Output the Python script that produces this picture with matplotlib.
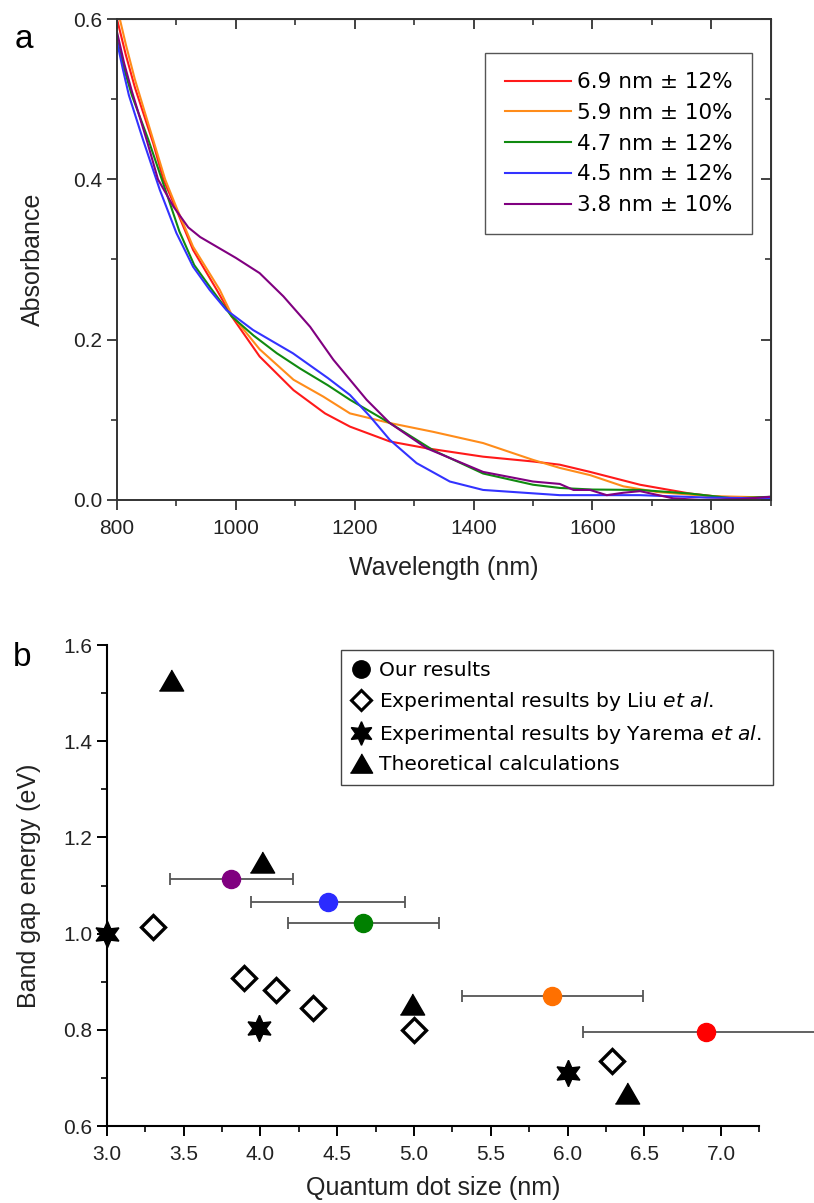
import matplotlib
matplotlib.use('Agg')
import matplotlib.pyplot as plt
from matplotlib.lines import Line2D
import numpy as np

# panel a: absorbance spectra
red_wl = [800, 815, 830, 861, 878, 900, 928, 968, 993, 1040, 1097, 1150, 1192, 1259, 1321, 1416, 1500, 1545, 1596, 1680, 1764, 1837, 1900]
red_abs = [0.600, 0.555, 0.515, 0.445, 0.400, 0.362, 0.312, 0.262, 0.229, 0.179, 0.137, 0.108, 0.0915, 0.073, 0.0645, 0.054, 0.048, 0.044, 0.035, 0.019, 0.008, 0.002, 0.003]

orange_wl = [800, 815, 830, 861, 881, 900, 928, 973, 993, 1040, 1097, 1147, 1192, 1259, 1332, 1416, 1500, 1545, 1596, 1652, 1708, 1792, 1900]
orange_abs = [0.615, 0.568, 0.525, 0.449, 0.400, 0.365, 0.316, 0.262, 0.231, 0.188, 0.150, 0.129, 0.108, 0.096, 0.085, 0.071, 0.050, 0.040, 0.031, 0.017, 0.010, 0.005, 0.003]

green_wl = [800, 812, 825, 853, 880, 905, 930, 960, 993, 1030, 1069, 1108, 1155, 1192, 1259, 1332, 1416, 1500, 1545, 1600, 1680, 1764, 1837, 1900]
green_abs = [0.575, 0.538, 0.505, 0.449, 0.390, 0.335, 0.293, 0.262, 0.229, 0.205, 0.183, 0.164, 0.143, 0.125, 0.096, 0.062, 0.033, 0.019, 0.015, 0.013, 0.0125, 0.008, 0.002, 0.004]

blue_wl = [800, 810, 820, 844, 872, 900, 928, 956, 984, 1029, 1096, 1155, 1192, 1226, 1259, 1304, 1360, 1416, 1545, 1680, 1792, 1900]
blue_abs = [0.572, 0.537, 0.505, 0.449, 0.387, 0.333, 0.291, 0.262, 0.237, 0.212, 0.183, 0.152, 0.131, 0.104, 0.075, 0.046, 0.023, 0.0125, 0.006, 0.006, 0.003, 0.002]

purple_wl = [800, 812, 825, 850, 869, 895, 920, 940, 970, 1000, 1040, 1080, 1125, 1164, 1220, 1259, 1321, 1416, 1500, 1545, 1568, 1596, 1624, 1652, 1680, 1736, 1781, 1848, 1900]
purple_abs = [0.584, 0.545, 0.510, 0.449, 0.400, 0.366, 0.340, 0.328, 0.315, 0.302, 0.283, 0.254, 0.216, 0.175, 0.125, 0.096, 0.0645, 0.035, 0.023, 0.020, 0.0125, 0.0125, 0.006, 0.009, 0.011, 0.002, 0.000, 0.001, 0.004]

spec_labels = ['6.9 nm ± 12%', '5.9 nm ± 10%', '4.7 nm ± 12%', '4.5 nm ± 12%', '3.8 nm ± 10%']

# panel b: band gap vs size
our_size = [6.9, 5.9, 4.67, 4.44, 3.81]
our_gap = [0.795, 0.871, 1.022, 1.066, 1.113]
our_err = [0.80, 0.59, 0.49, 0.50, 0.40]
liu_size = [3.3, 3.89, 4.1, 4.34, 5.0, 6.29]
liu_gap = [1.014, 0.908, 0.883, 0.845, 0.80, 0.735]
yarema_size = [3.0, 3.99, 6.0]
yarema_gap = [1.0, 0.803, 0.71]
theory_size = [3.42, 4.01, 4.99, 6.39]
theory_gap = [1.527, 1.148, 0.854, 0.668]

line_colors = ['#ff1a1a', '#ff8c1a', '#108a10', '#3333ff', '#800080']
dot_colors = ['#ff0000', '#ff7000', '#008000', '#2b2bff', '#800080']

arial = 'Liberation Sans'
tick_col = '#222222'

fig = plt.figure(figsize=(8.14, 12.03), dpi=100)

# ---------------- panel a ----------------
ax1 = fig.add_axes([0.1437, 0.5844, 0.8032, 0.3998])
series = [(red_wl, red_abs), (orange_wl, orange_abs), (green_wl, green_abs),
          (blue_wl, blue_abs), (purple_wl, purple_abs)]
for (wl, ab), c, lab in zip(series, line_colors, spec_labels):
    ax1.plot(wl, ab, color=c, lw=1.5, label=lab)
ax1.set_xlim(800, 1900)
ax1.set_ylim(0, 0.6)
ax1.set_xticks(np.arange(800, 1801, 200))
ax1.set_xticks(np.arange(900, 1901, 200), minor=True)
ax1.set_yticks([0.0, 0.2, 0.4, 0.6])
ax1.set_yticks([0.1, 0.3, 0.5], minor=True)
ax1.set_yticklabels(['0.0', '0.2', '0.4', '0.6'])
for sp in ax1.spines.values():
    sp.set_color('#333333')
    sp.set_linewidth(1.4)
ax1.tick_params(which='major', direction='out', length=7, width=1.3, color='#333333',
                labelsize=15, labelcolor=tick_col)
ax1.tick_params(axis='x', which='major', pad=7)
ax1.tick_params(which='minor', direction='out', length=4, width=1.2, color='#333333')
for t in ax1.get_xticklabels() + ax1.get_yticklabels():
    t.set_fontfamily(arial)
ax1.set_xlabel('Wavelength (nm)', fontsize=18, family=arial, color=tick_col, labelpad=13)
ax1.set_ylabel('Absorbance', fontsize=18, family=arial, color=tick_col, labelpad=20)

# mirrored ticks pointing inwards on top and right
top = ax1.secondary_xaxis('top')
top.set_xticks(np.arange(800, 1901, 200))
top.set_xticks(np.arange(900, 1901, 200), minor=True)
top.tick_params(which='major', direction='in', length=7, width=1.3, color='#333333', labeltop=False)
top.tick_params(which='minor', direction='in', length=4, width=1.2, color='#333333')
top.spines['top'].set_color('#333333')
right = ax1.secondary_yaxis('right')
right.set_yticks([0.0, 0.2, 0.4, 0.6])
right.set_yticks([0.1, 0.3, 0.5], minor=True)
right.tick_params(which='major', direction='in', length=7, width=1.3, color='#333333', labelright=False)
right.tick_params(which='minor', direction='in', length=4, width=1.2, color='#333333')
right.spines['right'].set_color('#333333')

leg1 = ax1.legend(loc='upper right', bbox_to_anchor=(0.9235, 0.9562), bbox_transform=fig.transFigure,
                  borderaxespad=0, fancybox=False, edgecolor='#555555', framealpha=1,
                  prop={'family': 'DejaVu Sans', 'size': 15.5}, handlelength=3.1,
                  labelspacing=0.5, handletextpad=0.25, borderpad=0.9)
leg1.get_frame().set_linewidth(1.0)

fig.text(0.018, 0.960, 'a', fontsize=24, family=arial, color='black')

# ---------------- panel b ----------------
ax2 = fig.add_axes([0.1314, 0.064, 0.8016, 0.3998])
for x, y, e, c in zip(our_size, our_gap, our_err, dot_colors):
    eb = ax2.errorbar(x, y, xerr=e, fmt='none', ecolor='#555555', elinewidth=1.3,
                      capsize=4.5, capthick=1.3, zorder=2)
    for art in list(eb.lines[1]) + list(eb.lines[2]):
        art.set_clip_on(False)
    ax2.plot(x, y, 'o', color=c, ms=13, mec=c, zorder=4, clip_on=False)

ax2.plot(liu_size, liu_gap, 'D', ms=12.5, mfc='white', mec='black', mew=2.4, ls='none', zorder=3)
ax2.plot(yarema_size, yarema_gap, marker=(6, 1, 0), ms=19, color='black', ls='none', zorder=5, clip_on=False)
tri = [(-1, -0.866), (1, -0.866), (0, 0.866)]
ax2.plot(theory_size, theory_gap, marker=tri, ms=17.5, color='black', ls='none', zorder=3)

ax2.set_xlim(3.0, 7.25)
ax2.set_ylim(0.6, 1.6)
ax2.set_xticks(np.arange(3.0, 7.01, 0.5))
ax2.set_xticks(np.arange(3.25, 7.26, 0.5), minor=True)
ax2.set_yticks(np.arange(0.6, 1.61, 0.2))
ax2.set_yticks(np.arange(0.7, 1.6, 0.2), minor=True)
ax2.set_xticklabels(['%.1f' % v for v in np.arange(3.0, 7.01, 0.5)])
ax2.set_yticklabels(['%.1f' % v for v in np.arange(0.6, 1.61, 0.2)])
ax2.spines['top'].set_visible(False)
ax2.spines['right'].set_visible(False)
for s in ['left', 'bottom']:
    ax2.spines[s].set_linewidth(1.5)
ax2.tick_params(which='major', direction='out', length=7, width=1.4, labelsize=15, labelcolor=tick_col)
ax2.tick_params(axis='x', which='major', pad=7)
ax2.tick_params(which='minor', direction='out', length=4, width=1.2)
for t in ax2.get_xticklabels() + ax2.get_yticklabels():
    t.set_fontfamily(arial)
ax2.set_xlabel('Quantum dot size (nm)', fontsize=18, family=arial, color=tick_col, labelpad=8)
ax2.set_ylabel('Band gap energy (eV)', fontsize=18, family=arial, color=tick_col, labelpad=16)

handles = [
    Line2D([], [], marker='o', color='black', ls='none', ms=12.5),
    Line2D([], [], marker='D', mfc='white', mec='black', mew=2.2, ls='none', ms=10.5),
    Line2D([], [], marker=(6, 1, 0), color='black', ls='none', ms=17),
    Line2D([], [], marker=tri, color='black', ls='none', ms=16),
]
labels_b = ['Our results',
            r'Experimental results by Liu $\it{et\ al.}$',
            r'Experimental results by Yarema $\it{et\ al}$.',
            'Theoretical calculations']
leg2 = ax2.legend(handles, labels_b, loc='upper left', bbox_to_anchor=(0.4185, 0.4597),
                  bbox_transform=fig.transFigure, borderaxespad=0, fancybox=False,
                  edgecolor='#444444', framealpha=1, prop={'family': 'DejaVu Sans', 'size': 14.6},
                  handlelength=0.9, handletextpad=0.45, labelspacing=0.48, borderpad=0.55)
leg2.get_frame().set_linewidth(1.0)

fig.text(0.016, 0.4464, 'b', fontsize=24, family=arial, color='black')

fig.savefig('out.png', dpi=100)
